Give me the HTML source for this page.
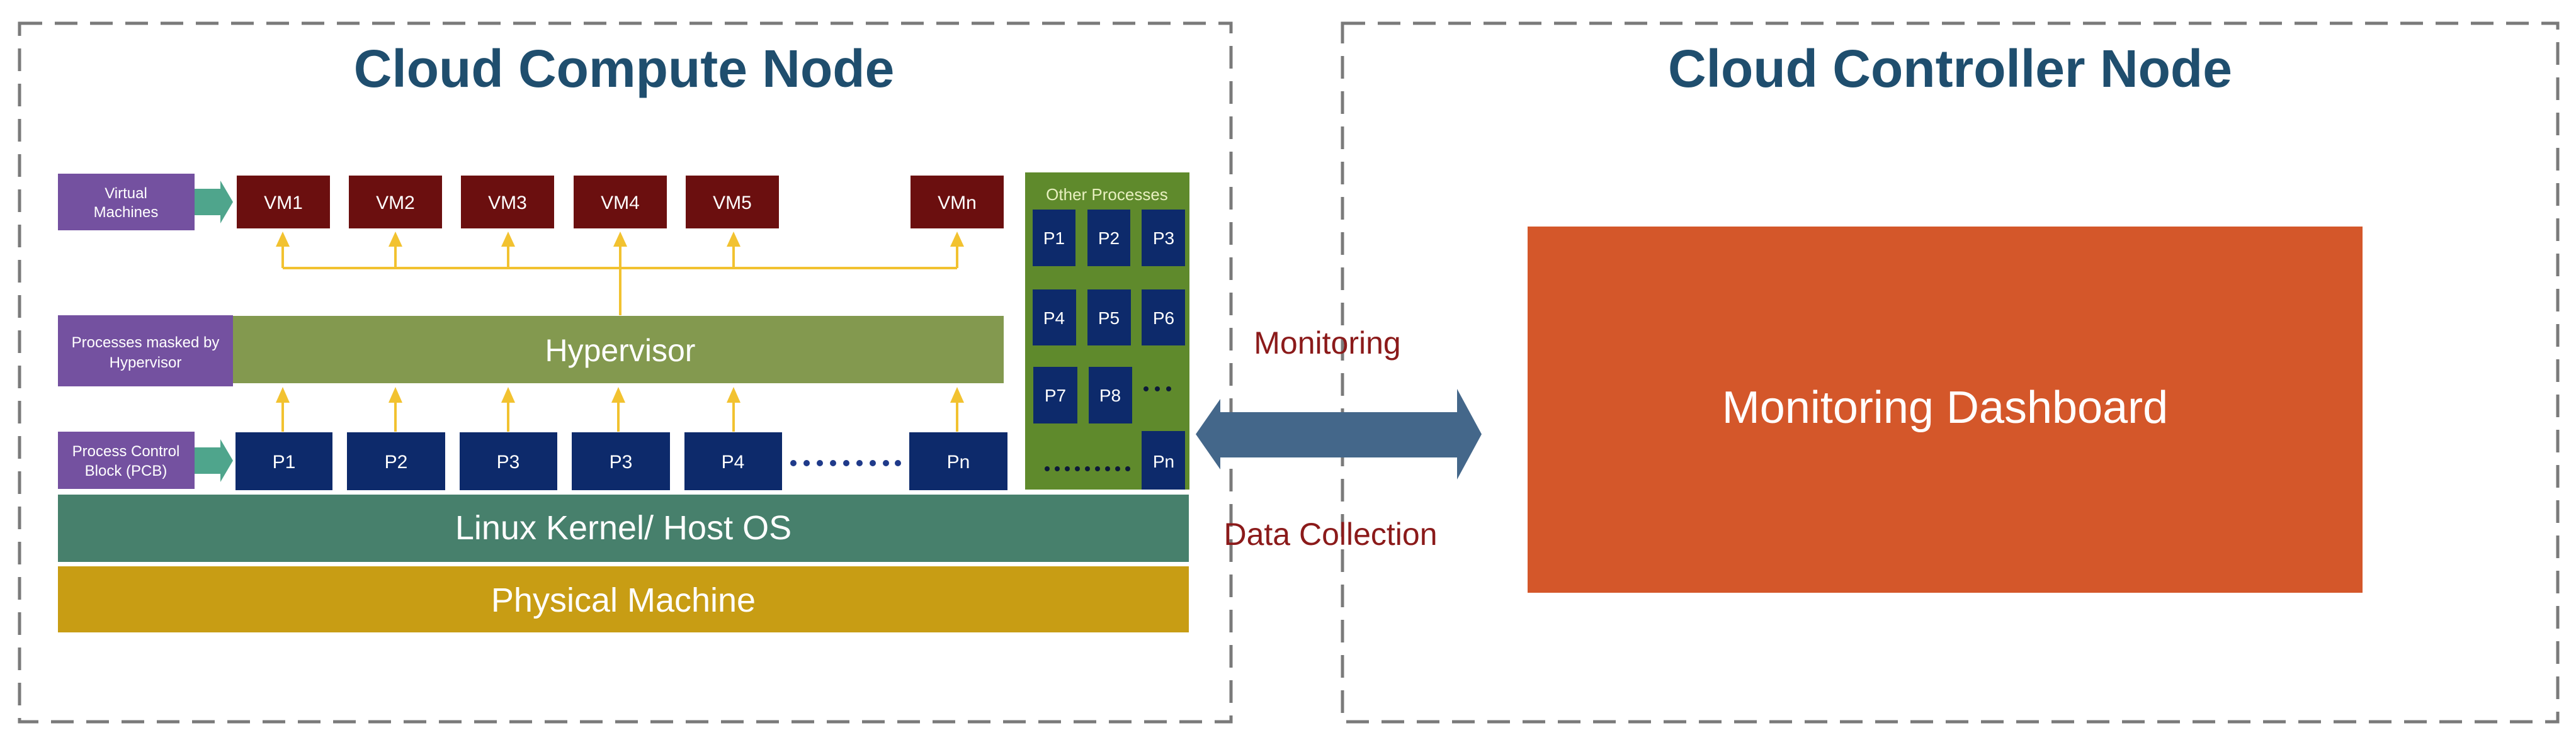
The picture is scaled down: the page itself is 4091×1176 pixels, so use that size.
<!DOCTYPE html>
<html><head><meta charset="utf-8"><style>
html,body{margin:0;padding:0;background:#fff;}
svg{display:block;}
text{font-family:"Liberation Sans",sans-serif;}
.w{fill:#fff;}
</style></head><body>
<svg width="4091" height="1176" viewBox="0 0 4091 1176" xmlns="http://www.w3.org/2000/svg">
<rect width="4091" height="1176" fill="#fff"/>
<!-- dashed boxes -->
<rect x="31" y="37" width="1924" height="1110" fill="none" stroke="#7a7a7a" stroke-width="5" stroke-dasharray="36,20"/>
<rect x="2132" y="37" width="1930" height="1110" fill="none" stroke="#7a7a7a" stroke-width="5" stroke-dasharray="36,20"/>
<text x="991" y="138" font-size="84" font-weight="bold" fill="#1f4e6e" text-anchor="middle">Cloud Compute Node</text>
<text x="3097" y="138" font-size="84" font-weight="bold" fill="#1f4e6e" text-anchor="middle">Cloud Controller Node</text>

<!-- label boxes -->
<rect x="92" y="276" width="217" height="90" fill="#7451a0"/>
<text x="200" y="315" font-size="24" class="w" text-anchor="middle">Virtual</text>
<text x="200" y="345" font-size="24" class="w" text-anchor="middle">Machines</text>
<polygon points="309,300 350,300 350,287 370,321 350,355 350,342 309,342" fill="#4fa58c"/>

<rect x="92" y="501" width="278" height="113" fill="#7451a0"/>
<text x="231" y="552" font-size="24" class="w" text-anchor="middle">Processes masked by</text>
<text x="231" y="584" font-size="24" class="w" text-anchor="middle">Hypervisor</text>

<rect x="92" y="686" width="217" height="91" fill="#7451a0"/>
<text x="200" y="725" font-size="24" class="w" text-anchor="middle">Process Control</text>
<text x="200" y="756" font-size="24" class="w" text-anchor="middle">Block (PCB)</text>
<polygon points="309,711 350,711 350,698 370,732 350,766 350,753 309,753" fill="#4fa58c"/>

<!-- VMs -->
<g fill="#6b0f0f">
<rect x="376" y="279" width="148" height="84"/><rect x="554" y="279" width="148" height="84"/>
<rect x="732" y="279" width="148" height="84"/><rect x="911" y="279" width="148" height="84"/>
<rect x="1089" y="279" width="148" height="84"/><rect x="1446" y="279" width="148" height="84"/>
</g>
<g font-size="30" class="w" text-anchor="middle">
<text x="450" y="332">VM1</text><text x="628" y="332">VM2</text><text x="806" y="332">VM3</text>
<text x="985" y="332">VM4</text><text x="1163" y="332">VM5</text><text x="1520" y="332">VMn</text>
</g>
<!-- yellow connectors -->
<g stroke="#f2c230" stroke-width="4" fill="none">
<polyline points="449,426 1520,426"/>
<line x1="985" y1="501" x2="985" y2="426"/>
<line x1="449" y1="426" x2="449" y2="390"/><line x1="628" y1="426" x2="628" y2="390"/>
<line x1="807" y1="426" x2="807" y2="390"/><line x1="985" y1="426" x2="985" y2="390"/>
<line x1="1165" y1="426" x2="1165" y2="390"/><line x1="1520" y1="426" x2="1520" y2="390"/>
<line x1="449" y1="686" x2="449" y2="638"/><line x1="628" y1="686" x2="628" y2="638"/>
<line x1="807" y1="686" x2="807" y2="638"/><line x1="982" y1="686" x2="982" y2="638"/>
<line x1="1165" y1="686" x2="1165" y2="638"/><line x1="1520" y1="686" x2="1520" y2="638"/>
</g>
<g fill="#f2c230">
<polygon points="438,392 460,392 449,368"/><polygon points="617,392 639,392 628,368"/>
<polygon points="796,392 818,392 807,368"/><polygon points="974,392 996,392 985,368"/>
<polygon points="1154,392 1176,392 1165,368"/><polygon points="1509,392 1531,392 1520,368"/>
<polygon points="438,640 460,640 449,615"/><polygon points="617,640 639,640 628,615"/>
<polygon points="796,640 818,640 807,615"/><polygon points="971,640 993,640 982,615"/>
<polygon points="1154,640 1176,640 1165,615"/><polygon points="1509,640 1531,640 1520,615"/>
</g>
<!-- hypervisor -->
<rect x="370" y="502" width="1224" height="107" fill="#83994f"/>
<text x="985" y="574" font-size="50" class="w" text-anchor="middle">Hypervisor</text>
<!-- processes -->
<g fill="#0d2a6b">
<rect x="374" y="687" width="154" height="92"/><rect x="551" y="687" width="156" height="92"/>
<rect x="730" y="687" width="155" height="92"/><rect x="908" y="687" width="156" height="92"/>
<rect x="1087" y="687" width="155" height="92"/><rect x="1444" y="687" width="156" height="92"/>
</g>
<g font-size="30" class="w" text-anchor="middle">
<text x="451" y="744">P1</text><text x="629" y="744">P2</text><text x="807" y="744">P3</text>
<text x="986" y="744">P3</text><text x="1164" y="744">P4</text><text x="1522" y="744">Pn</text>
</g>
<g fill="#1f3a8a">
<circle cx="1260" cy="736" r="5"/><circle cx="1281" cy="736" r="5"/><circle cx="1302" cy="736" r="5"/>
<circle cx="1323" cy="736" r="5"/><circle cx="1344" cy="736" r="5"/><circle cx="1365" cy="736" r="5"/>
<circle cx="1386" cy="736" r="5"/><circle cx="1407" cy="736" r="5"/><circle cx="1426" cy="736" r="5"/>
</g>
<!-- other processes -->
<rect x="1628" y="274" width="261" height="504" fill="#5f8a2c"/>
<text x="1758" y="318" font-size="26" fill="#e8f0c0" text-anchor="middle">Other Processes</text>
<g fill="#0d2a6b">
<rect x="1640" y="333" width="68" height="90"/><rect x="1727" y="333" width="68" height="90"/><rect x="1813" y="333" width="69" height="90"/>
<rect x="1640" y="460" width="69" height="89"/><rect x="1727" y="460" width="69" height="89"/><rect x="1813" y="460" width="69" height="89"/>
<rect x="1641" y="583" width="70" height="90"/><rect x="1729" y="583" width="69" height="90"/>
<rect x="1813" y="685" width="69" height="93"/>
</g>
<g font-size="28" class="w" text-anchor="middle">
<text x="1674" y="388">P1</text><text x="1761" y="388">P2</text><text x="1848" y="388">P3</text>
<text x="1674" y="515">P4</text><text x="1761" y="515">P5</text><text x="1848" y="515">P6</text>
<text x="1676" y="638">P7</text><text x="1763" y="638">P8</text>
<text x="1848" y="743">Pn</text>
</g>
<g fill="#0d1a3a">
<circle cx="1820" cy="618" r="4"/><circle cx="1838" cy="618" r="4"/><circle cx="1856" cy="618" r="4"/>
<circle cx="1663" cy="745" r="4"/><circle cx="1679" cy="745" r="4"/><circle cx="1695" cy="745" r="4"/>
<circle cx="1711" cy="745" r="4"/><circle cx="1727" cy="745" r="4"/><circle cx="1743" cy="745" r="4"/>
<circle cx="1759" cy="745" r="4"/><circle cx="1775" cy="745" r="4"/><circle cx="1791" cy="745" r="4"/>
</g>
<!-- layers -->
<rect x="92" y="786" width="1796" height="107" fill="#47806c"/>
<text x="990" y="857" font-size="54" class="w" text-anchor="middle">Linux Kernel/ Host OS</text>
<rect x="92" y="900" width="1796" height="105" fill="#c89d14"/>
<text x="990" y="972" font-size="54" class="w" text-anchor="middle">Physical Machine</text>
<!-- double arrow -->
<polygon points="1899,690 1938,634 1938,655 2314,655 2314,618 2353,690 2314,762 2314,727 1938,727 1938,746" fill="#44678a"/>
<text x="2108" y="562" font-size="50" fill="#8b1a1a" text-anchor="middle">Monitoring</text>
<text x="2113" y="866" font-size="50" fill="#8b1a1a" text-anchor="middle">Data Collection</text>
<!-- dashboard -->
<rect x="2426" y="360" width="1326" height="582" fill="#d4572a"/>
<text x="3089" y="672" font-size="72" class="w" text-anchor="middle">Monitoring Dashboard</text>
</svg>
</body></html>
